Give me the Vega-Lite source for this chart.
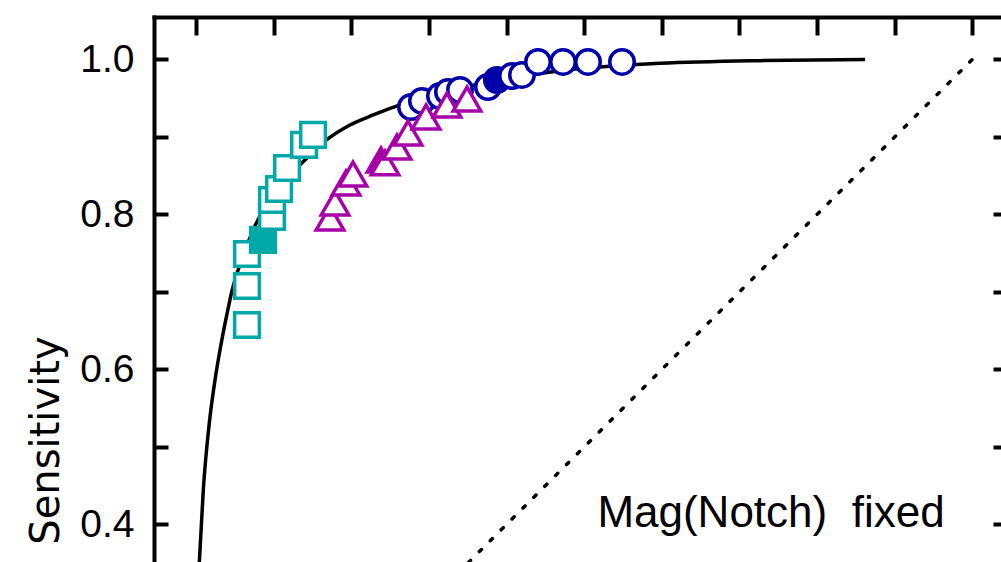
{
  "$schema": "https://vega.github.io/schema/vega-lite/v6.json",
  "width": 847,
  "height": 545,
  "autosize": "none",
  "padding": {"left": 154, "top": 17, "right": 0, "bottom": 0},
  "background": "white",
  "config": {
    "view": {"stroke": null},
    "axis": {"grid": false, "domainColor": "black", "tickColor": "black", "domainWidth": 4, "tickWidth": 4, "labelColor": "black", "titleColor": "black"}
  },
  "datasets": {
    "curve": [
      {"fpr": 0.0043, "sens": 0.3516},
      {"fpr": 0.0094, "sens": 0.4445},
      {"fpr": 0.0171, "sens": 0.5306},
      {"fpr": 0.0245, "sens": 0.5865},
      {"fpr": 0.032, "sens": 0.631},
      {"fpr": 0.04, "sens": 0.672},
      {"fpr": 0.046, "sens": 0.7},
      {"fpr": 0.06, "sens": 0.745},
      {"fpr": 0.075, "sens": 0.783},
      {"fpr": 0.09, "sens": 0.812},
      {"fpr": 0.105, "sens": 0.834},
      {"fpr": 0.12, "sens": 0.85},
      {"fpr": 0.138, "sens": 0.868},
      {"fpr": 0.168, "sens": 0.8961},
      {"fpr": 0.1984, "sens": 0.9155},
      {"fpr": 0.2284, "sens": 0.9284},
      {"fpr": 0.2628, "sens": 0.9413},
      {"fpr": 0.3143, "sens": 0.9568},
      {"fpr": 0.3916, "sens": 0.9735},
      {"fpr": 0.4689, "sens": 0.9855},
      {"fpr": 0.5677, "sens": 0.9935},
      {"fpr": 0.5977, "sens": 0.995},
      {"fpr": 0.7265, "sens": 0.9985},
      {"fpr": 0.8618, "sens": 1.0}
    ],
    "chance": [
      {"fpr": 0, "sens": 0},
      {"fpr": 1, "sens": 1}
    ],
    "circles": [
      {"fpr": 0.277, "sens": 0.9387, "filled": false},
      {"fpr": 0.2911, "sens": 0.9465, "filled": false},
      {"fpr": 0.3143, "sens": 0.9529, "filled": false},
      {"fpr": 0.3246, "sens": 0.9581, "filled": false},
      {"fpr": 0.3401, "sens": 0.9606, "filled": false},
      {"fpr": 0.3761, "sens": 0.9645, "filled": false},
      {"fpr": 0.3877, "sens": 0.9735, "filled": true},
      {"fpr": 0.4071, "sens": 0.9787, "filled": false},
      {"fpr": 0.4199, "sens": 0.98, "filled": false},
      {"fpr": 0.4406, "sens": 0.9968, "filled": false},
      {"fpr": 0.4728, "sens": 0.9968, "filled": false},
      {"fpr": 0.505, "sens": 0.9968, "filled": false},
      {"fpr": 0.5488, "sens": 0.9968, "filled": false}
    ],
    "squares": [
      {"fpr": 0.0657, "sens": 0.6574, "filled": false},
      {"fpr": 0.0657, "sens": 0.7077, "filled": false},
      {"fpr": 0.0657, "sens": 0.749, "filled": false},
      {"fpr": 0.0863, "sens": 0.7671, "filled": true},
      {"fpr": 0.0979, "sens": 0.7968, "filled": false},
      {"fpr": 0.0979, "sens": 0.8187, "filled": false},
      {"fpr": 0.107, "sens": 0.8329, "filled": false},
      {"fpr": 0.1173, "sens": 0.86, "filled": false},
      {"fpr": 0.1392, "sens": 0.8897, "filled": false},
      {"fpr": 0.1508, "sens": 0.9026, "filled": false}
    ],
    "triangles": [
      {"fpr": 0.1726, "sens": 0.7955, "filled": false},
      {"fpr": 0.1791, "sens": 0.8148, "filled": false},
      {"fpr": 0.1932, "sens": 0.8406, "filled": false},
      {"fpr": 0.2022, "sens": 0.8523, "filled": false},
      {"fpr": 0.2383, "sens": 0.8703, "filled": true},
      {"fpr": 0.2435, "sens": 0.8665, "filled": false},
      {"fpr": 0.2589, "sens": 0.8871, "filled": false},
      {"fpr": 0.2731, "sens": 0.9052, "filled": false},
      {"fpr": 0.2963, "sens": 0.9258, "filled": false},
      {"fpr": 0.3233, "sens": 0.9413, "filled": false},
      {"fpr": 0.3491, "sens": 0.949, "filled": false}
    ],
    "note": [
      {"fpr": 0.7407, "sens": 0.3972, "label": "Mag(Notch)\u00a0\u00a0fixed"}
    ]
  },
  "resolve": {"axis": {"x": "independent", "y": "independent"}},
  "layer": [
    {
      "data": {"name": "curve"},
      "mark": {"type": "line", "color": "black", "strokeWidth": 3.5, "interpolate": "monotone", "clip": true},
      "encoding": {
        "x": {"field": "fpr", "type": "quantitative",
          "scale": {"domain": [-0.0541, 1.037], "nice": false, "zero": false},
          "axis": {"orient": "top", "values": [0, 0.1, 0.2, 0.3, 0.4, 0.5, 0.6, 0.7, 0.8, 0.9, 1.0], "tickSize": -18, "labels": false, "title": null, "domainCap": "square"}},
        "y": {"field": "sens", "type": "quantitative",
          "scale": {"domain": [0.3516, 1.0548], "nice": false, "zero": false},
          "axis": {"orient": "left", "values": [0.4, 0.5, 0.6, 0.7, 0.8, 0.9, 1.0], "tickSize": -14,
            "labelExpr": "round(datum.value * 10) % 2 == 0 ? format(datum.value, '.1f') : ''",
            "labelFont": "Liberation Sans", "labelFontSize": 39, "labelPadding": 34, "labelBaseline": "middle", "labelAlign": "right",
            "title": "Sensitivity", "titleFont": "DejaVu Sans", "titleFontSize": 40, "titleFontWeight": "normal",
            "titleAngle": -90, "titleX": -96, "titleY": 423, "titleAlign": "center", "titleBaseline": "alphabetic", "domainCap": "square"}}
      }
    },
    {
      "data": {"name": "chance"},
      "mark": {"type": "line", "color": "black", "strokeWidth": 3.5, "strokeDash": [3, 12.4], "strokeCap": "round", "clip": true},
      "encoding": {
        "x": {"field": "fpr", "type": "quantitative", "scale": {"domain": [-0.0541, 1.037], "nice": false, "zero": false}, "axis": null},
        "y": {"field": "sens", "type": "quantitative", "scale": {"domain": [0.3516, 1.0548], "nice": false, "zero": false},
          "axis": {"orient": "right", "values": [0.4, 0.5, 0.6, 0.7, 0.8, 0.9, 1.0], "tickSize": -8, "labels": false, "domain": false, "title": null}}
      }
    },
    {
      "data": {"name": "circles"},
      "mark": {"type": "point", "shape": "circle", "size": 600, "strokeWidth": 3.5, "opacity": 1, "stroke": "#0000aa", "clip": true},
      "encoding": {
        "x": {"field": "fpr", "type": "quantitative", "scale": {"domain": [-0.0541, 1.037], "nice": false, "zero": false}, "axis": null},
        "y": {"field": "sens", "type": "quantitative", "scale": {"domain": [0.3516, 1.0548], "nice": false, "zero": false}, "axis": null},
        "fill": {"condition": {"test": "datum.filled", "value": "#0000aa"}, "value": "white"}
      }
    },
    {
      "data": {"name": "squares"},
      "mark": {"type": "point", "shape": "square", "size": 610, "strokeWidth": 3.5, "opacity": 1, "stroke": "#00a8a8", "clip": true},
      "encoding": {
        "x": {"field": "fpr", "type": "quantitative", "scale": {"domain": [-0.0541, 1.037], "nice": false, "zero": false}, "axis": null},
        "y": {"field": "sens", "type": "quantitative", "scale": {"domain": [0.3516, 1.0548], "nice": false, "zero": false}, "axis": null},
        "fill": {"condition": {"test": "datum.filled", "value": "#00a8a8"}, "value": "white"}
      }
    },
    {
      "data": {"name": "triangles"},
      "mark": {"type": "point", "shape": "triangle-up", "size": 760, "strokeWidth": 3.5, "opacity": 1, "stroke": "#a800a8", "clip": true},
      "encoding": {
        "x": {"field": "fpr", "type": "quantitative", "scale": {"domain": [-0.0541, 1.037], "nice": false, "zero": false}, "axis": null},
        "y": {"field": "sens", "type": "quantitative", "scale": {"domain": [0.3516, 1.0548], "nice": false, "zero": false}, "axis": null},
        "fill": {"condition": {"test": "datum.filled", "value": "#a800a8"}, "value": "white"}
      }
    },
    {
      "data": {"name": "note"},
      "mark": {"type": "text", "font": "Liberation Sans", "fontSize": 44, "align": "center", "baseline": "alphabetic", "color": "black"},
      "encoding": {
        "x": {"field": "fpr", "type": "quantitative", "scale": {"domain": [-0.0541, 1.037], "nice": false, "zero": false}, "axis": null},
        "y": {"field": "sens", "type": "quantitative", "scale": {"domain": [0.3516, 1.0548], "nice": false, "zero": false}, "axis": null},
        "text": {"field": "label", "type": "nominal"}
      }
    }
  ]
}
